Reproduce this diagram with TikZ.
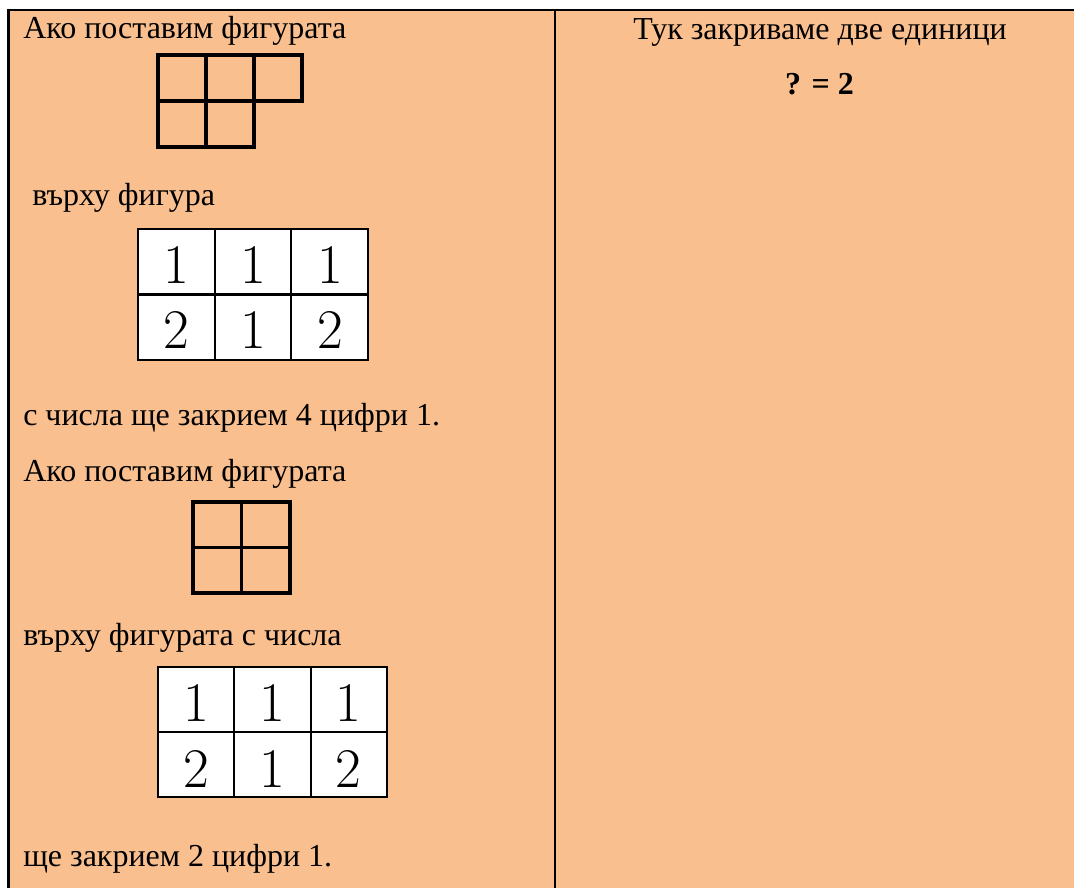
\documentclass[tikz,border=0pt]{standalone}
\usepackage{fontspec}
\setmainfont{Liberation Serif}
\newfontfamily\digitfont{Latin Modern Roman}
\definecolor{peach}{HTML}{FABF8F}

\begin{document}
\begin{tikzpicture}[x=0.75pt,y=-0.75pt]
\tikzset{every node/.style={font=\fontsize{24}{28}\selectfont, inner sep=0pt},
  txt/.style={anchor=base west},
  piece/.style={draw, line width=2.4pt},
  cell/.style={draw, fill=white, line width=1.6pt},
  num/.style={anchor=base, font=\digitfont\fontsize{42}{42}\selectfont}}
\useasboundingbox (0,0) rectangle (1074,888);
% page and table frame
\fill[white] (0,0) rectangle (1074,888);
\fill[peach] (8.5,10) rectangle (1074,888);
\draw[line width=1.6pt] (8.5,888) -- (8.5,10) -- (1074,10);
\draw[line width=1.6pt] (555,10) -- (555,888);

% left column texts
\node[txt] (put1) at (23,39) {Ако поставим фигурата};
\node[txt] (over1) at (32,205) {върху фигура};
\node[txt] (hide4) at (23,425) {с числа ще закрием 4 цифри 1.};
\node[txt] (put2) at (23,481) {Ако поставим фигурата};
\node[txt] (over2) at (23,645) {върху фигурата с числа};
\node[txt] (hide2) at (23,866) {ще закрием 2 цифри 1.};

% first piece
\foreach \x/\y in {158/55,206/55,254/55,158/101,206/101}
  \draw[piece] (\x,\y) rectangle ++(48,46);
% second piece
\foreach \x in {193,241.5}
  \foreach \y in {502,547.5}
    \draw[piece] (\x,\y) rectangle ++(48.5,45.5);

% first board with numbers
\foreach \i/\up/\dn in {0/1/2,1/1/1,2/1/2} {
  \draw[cell] (138+76.7*\i,229) rectangle ++(76.7,65.5);
  \draw[cell] (138+76.7*\i,294.5) rectangle ++(76.7,65.5);
  \node[num] (a\i) at (176.5+76.7*\i,283) {\up};
  \node[num] (b\i) at (176.5+76.7*\i,348) {\dn};
}
% second board with numbers
\foreach \i/\up/\dn in {0/1/2,1/1/1,2/1/2} {
  \draw[cell] (158+76.3*\i,667) rectangle ++(76.3,65);
  \draw[cell] (158+76.3*\i,732) rectangle ++(76.3,65);
  \node[num] (c\i) at (196+76.3*\i,721) {\up};
  \node[num] (d\i) at (196+76.3*\i,787) {\dn};
}

% right column
\node[anchor=base] (tuk) at (820,40) {Тук закриваме две единици};
\node[anchor=base] (eq) at (819.5,95) {\textbf{? = 2}};
\end{tikzpicture}
\end{document}
